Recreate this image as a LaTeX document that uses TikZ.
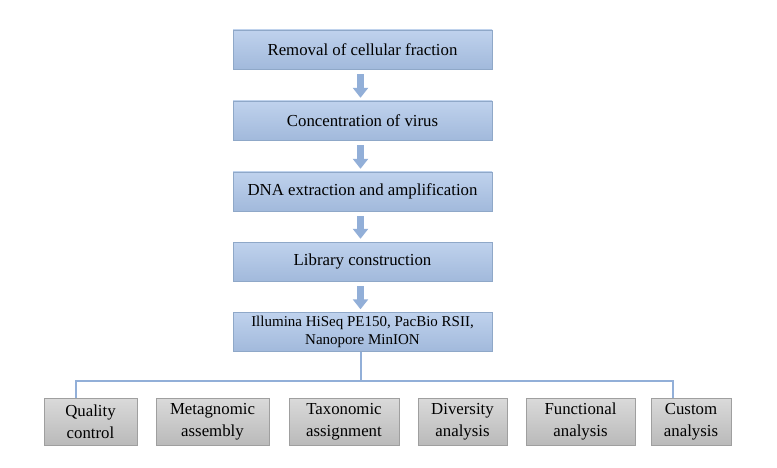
\documentclass[tikz,border=0pt]{standalone}
\usepackage{fontspec}
\setmainfont{Liberation Serif}
\usetikzlibrary{arrows.meta}
\definecolor{stepblue}{HTML}{AAC3E7}
\definecolor{stepedge}{HTML}{8FA8C8}
\definecolor{linkblue}{HTML}{92AFD8}
\definecolor{taskgray}{HTML}{CACACA}
\tikzset{
  stepbox/.style={draw=stepedge, top color=stepblue!75!white, bottom color=stepblue!95!black,
    minimum width=259pt, minimum height=39pt, inner sep=0pt, font=\fontsize{16.8}{19}\selectfont},
  taskbox/.style={draw=gray!75, top color=taskgray!70!white, bottom color=taskgray!92!black,
    minimum height=47pt, inner sep=0pt, align=center, font=\fontsize{16.8}{22}\selectfont},
  blockarrow/.style={draw=linkblue, line width=7pt, -{Triangle[width=15pt,length=10pt]}},
  link/.style={draw=linkblue, line width=1.6pt}
}
\begin{document}
\begin{tikzpicture}[x=1pt,y=-1pt]
\useasboundingbox (0,0) rectangle (777,468);
\fill[white] (0,0) rectangle (777,468);
%\draw[step=50,gray,very thin] (0,0) grid (777,468);
\node[stepbox] (removal) at (362.5,49.5) {Removal of cellular fraction};
\node[stepbox] (concentration) at (362.5,120.5) {Concentration of virus};
\node[stepbox] (extraction) at (362.5,191.5) {DNA extraction and amplification};
\node[stepbox] (library) at (362.5,261.5) {Library construction};
\node[stepbox, align=center, font=\fontsize{15}{17.5}\selectfont] (sequencing) at (362.5,332) {Illumina HiSeq PE150, PacBio RSII,\\Nanopore MinION};
\draw[blockarrow] ([yshift=-5pt]removal.south -| 360.5,0) -- ([yshift=3pt]concentration.north -| 360.5,0);
\draw[blockarrow] ([yshift=-5pt]concentration.south -| 360.5,0) -- ([yshift=3pt]extraction.north -| 360.5,0);
\draw[blockarrow] ([yshift=-5pt]extraction.south -| 360.5,0) -- ([yshift=3pt]library.north -| 360.5,0);
\draw[blockarrow] ([yshift=-5pt]library.south -| 360.5,0) -- ([yshift=3pt]sequencing.north -| 360.5,0);
% analyses
\node[taskbox, minimum width=93pt] (quality) at (90.5,421.5) {Quality\\control};
\node[taskbox, minimum width=113pt] (assembly) at (212.5,421.5) {Metagnomic\\assembly};
\node[taskbox, minimum width=110pt] (taxonomy) at (344,421.5) {Taxonomic\\assignment};
\node[taskbox, minimum width=89pt] (diversity) at (462.5,421.5) {Diversity\\analysis};
\node[taskbox, minimum width=109pt] (functional) at (580.5,421.5) {Functional\\analysis};
\node[taskbox, minimum width=80pt] (custom) at (691,421.5) {Custom\\analysis};
\coordinate (split) at (361,381);
\draw[link] (sequencing.south -| split) -- (split);
\draw[link] (quality.north -| 76,0) |- (split) -| (custom.north -| 673,0);
\end{tikzpicture}
\end{document}
